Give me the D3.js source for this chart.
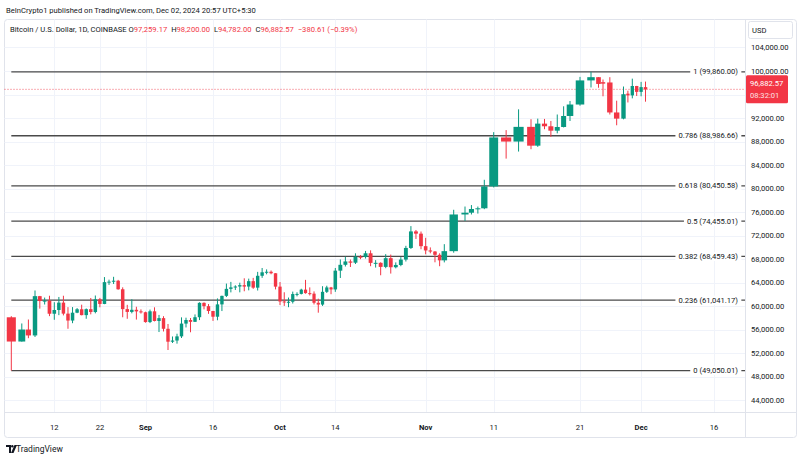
<!DOCTYPE html>
<html><head><meta charset="utf-8">
<script src="https://cdn.jsdelivr.net/npm/d3@7"></script>
<style>html,body{margin:0;padding:0;background:#fff;} svg{display:block;font-family:Roboto,"Liberation Sans",Arial,sans-serif;}</style>
</head><body><svg id="c" width="800" height="460"></svg>
<script>
// ---------- DATA ----------
const dates = [
"2024-08-05","2024-08-06","2024-08-07","2024-08-08","2024-08-09","2024-08-10","2024-08-11","2024-08-12","2024-08-13","2024-08-14",
"2024-08-15","2024-08-16","2024-08-17","2024-08-18","2024-08-19","2024-08-20","2024-08-21","2024-08-22","2024-08-23","2024-08-24",
"2024-08-25","2024-08-26","2024-08-27","2024-08-28","2024-08-29","2024-08-30","2024-08-31","2024-09-01","2024-09-02","2024-09-03",
"2024-09-04","2024-09-05","2024-09-06","2024-09-07","2024-09-08","2024-09-09","2024-09-10","2024-09-11","2024-09-12","2024-09-13",
"2024-09-14","2024-09-15","2024-09-16","2024-09-17","2024-09-18","2024-09-19","2024-09-20","2024-09-21","2024-09-22","2024-09-23",
"2024-09-24","2024-09-25","2024-09-26","2024-09-27","2024-09-28","2024-09-29","2024-09-30","2024-10-01","2024-10-02","2024-10-03",
"2024-10-04","2024-10-05","2024-10-06","2024-10-07","2024-10-08","2024-10-09","2024-10-10","2024-10-11","2024-10-12","2024-10-13",
"2024-10-14","2024-10-15","2024-10-16","2024-10-17","2024-10-18","2024-10-19","2024-10-20","2024-10-21","2024-10-22","2024-10-23",
"2024-10-24","2024-10-25","2024-10-26","2024-10-27","2024-10-28","2024-10-29","2024-10-30","2024-10-31","2024-11-01","2024-11-02",
"2024-11-03","2024-11-04","2024-11-05","2024-11-06","2024-11-07","2024-11-08","2024-11-09","2024-11-10","2024-11-11","2024-11-12",
"2024-11-13","2024-11-14","2024-11-15","2024-11-16","2024-11-17","2024-11-18","2024-11-19","2024-11-20","2024-11-21","2024-11-22",
"2024-11-23","2024-11-24","2024-11-25","2024-11-26","2024-11-27","2024-11-28","2024-11-29","2024-11-30","2024-12-01","2024-12-02"];
const open = [
58116,53991,56034,55027,61710,60881,60945,58719,59354,60609,
58737,57560,58894,59478,58483,59493,59012,61175,60381,64094,
64178,64333,62880,59504,59027,59388,59119,58974,57301,59132,
57487,57971,56160,53962,54160,54869,57042,57649,57343,58127,
60572,60005,59182,58213,60309,61759,62947,63201,63348,63578,
63339,64262,63152,65173,65769,65858,65603,63327,60805,60649,
60754,62067,62089,62818,62224,62134,60583,60276,62445,63193,
62851,66046,67041,67612,67399,68418,68362,69002,67367,67377,
66683,68170,66628,67014,67930,69907,72720,72339,70211,69482,
69300,68740,67800,69360,75600,75900,76530,76650,80370,88700,
88000,90500,87300,91050,90600,89850,90480,92350,94300,98400,
98950,98100,98050,92950,91900,96150,95850,97450,96450,97259.17];
const high = [
58305,57064,57736,62673,61751,61464,61778,60680,61572,61780,
59838,59847,59686,60262,59618,61396,61820,61412,64955,64513,
65000,64476,63210,60236,61184,59905,59462,59070,59425,59809,
58519,58300,56976,54850,55318,58100,58044,57990,58600,60660,
60650,60370,59210,61320,61786,63850,64133,63559,64000,64745,
64688,64817,65840,66498,66260,66076,65620,64110,62370,61470,
62480,62370,62970,64478,63200,62520,61280,63400,63480,63280,
66500,67950,68424,67939,69000,68694,69400,69500,67836,67470,
68850,68780,67450,68350,70270,73620,72960,72700,71632,70000,
69380,69000,70550,76400,76950,77200,76950,81500,89600,89950,
93480,91800,91900,91850,91500,92600,94000,94900,99000,99860,
98950,98550,98950,94950,97360,96650,98700,97470,98150,98200];
const low = [
49050,53973,54558,54766,59587,60287,58310,57688,58478,58433,
56161,57110,58813,58445,57862,58610,58783,59815,60345,63619,
63773,62800,58116,57860,58786,57726,58745,57201,57128,57415,
55607,55700,52550,53745,53629,54591,56386,55567,57330,57640,
59460,58700,57500,57610,59174,61555,62350,62758,62357,62538,
62700,62947,62670,64819,65422,65432,62856,60189,60043,59828,
60459,61675,61999,62128,61824,60300,58895,60046,62250,62033,
62441,64800,66750,66666,67177,68000,68100,66800,66571,65260,
66460,65550,66440,66800,67600,69730,71436,69685,68820,69000,
67466,66800,67450,69100,74500,75600,75750,76500,80200,85100,
86300,86700,87100,90100,88800,89400,90400,91500,94100,97200,
97150,95700,92600,90770,91780,94650,95350,95750,95700,94782];
const close = [
53991,56034,55027,61710,60881,60945,58719,59354,60609,58737,
57560,58894,59478,58483,59493,59012,61175,60381,64094,64178,
64333,62880,59504,59027,59388,59119,58974,57301,59132,57487,
57971,56160,53962,54160,54869,57042,57649,57343,58127,60572,
60005,59182,58213,60309,61759,62947,63201,63348,63578,63339,
64262,63152,65173,65769,65858,65603,63327,60805,60649,60754,
62067,62089,62818,62224,62134,60583,60276,62445,63193,62851,
66046,67041,67612,67399,68418,68362,69002,67367,67377,66683,
68170,66628,67014,67930,69907,72720,72339,70211,69482,69300,
68740,67800,69360,75600,75900,76530,76650,80370,88700,88000,
90500,87300,91050,90600,89850,90480,92350,94300,98400,98950,
97800,97850,92950,91900,96050,95850,97450,96450,97259.17,96882.57];

const fibRatios = [1, 0.786, 0.618, 0.5, 0.382, 0.236, 0];
const fibPrices = [99860.00, 88986.66, 80450.58, 74455.01, 68459.43, 61041.17, 49050.01];
const priceTicks = [44000,48000,52000,56000,60000,64000,68000,72000,76000,80000,84000,88000,92000,96000,100000,104000];
const timeTickDates = ["2024-08-12","2024-08-22","2024-09-01","2024-09-16","2024-10-01","2024-10-14","2024-11-01","2024-11-11","2024-11-21","2024-12-01","2024-12-16"];
const timeTickLabels = ["12","22","Sep","16","Oct","14","Nov","11","21","Dec","16"];
const lastPrice = 96882.57;
const countdown = "08:32:01";
const headerTitle = "BeInCrypto1 published on TradingView.com, Dec 02, 2024 20:57 UTC+5:30";
const symbolText = "Bitcoin / U.S. Dollar, 1D, COINBASE";
const ohlcLabels = ["O","H","L","C"];
const ohlcValues = ["97,259.17","98,200.00","94,782.00","96,882.57"];
const changeText = "\u2212380.61 (\u22120.39%)";

// ---------- LAYOUT ----------
const parse = d3.utcParse("%Y-%m-%d");
// time-axis stops (the source screenshot has a non-uniform time axis)
const timeStops = [
 ["2024-08-04",-0.5],["2024-08-05",11.3],["2024-08-06",21.8],["2024-08-08",35],["2024-08-12",54.3],
 ["2024-09-01",145.5],["2024-09-16",213],["2024-10-01",280],["2024-10-14",335.3],["2024-10-31",421],
 ["2024-11-05",444.3],["2024-11-06",453.7],["2024-11-07",465],["2024-11-10",484.3],["2024-11-11",493.7],
 ["2024-11-14",531],["2024-11-16",544.5],["2024-11-20",570],["2024-11-21",580],["2024-11-22",591],
 ["2024-11-23",598.5],["2024-11-24",603],["2024-11-27",623.5],["2024-12-02",645.5],["2024-12-16",714]];
const pane = {left:4.5, right:745.5, top:19.5, bottom:412.5};
const UP = "#089981", DOWN = "#f23645", TXT = "#131722", GRID = "#f0f3fa", BORDER = "#e0e3eb";
const FS = 7.6;

const svg = d3.select("#c");
const x = d3.scaleUtc().domain(timeStops.map(s=>parse(s[0]))).range(timeStops.map(s=>s[1]));
const y = d3.scaleLinear().domain([42007, 108844]).range([412, 19]);

const data = dates.map((d,i)=>({date:parse(d), o:open[i], h:high[i], l:low[i], c:close[i]}));

// border
svg.append("rect").attr("x",4.5).attr("y",19.5).attr("width",792).attr("height",418)
  .attr("rx",3).attr("fill","#fff").attr("stroke",BORDER);

// grid
const gGrid = svg.append("g");
gGrid.selectAll("line.h").data(priceTicks).join("line")
  .attr("x1",pane.left).attr("x2",pane.right)
  .attr("y1",d=>Math.round(y(d))+0.5).attr("y2",d=>Math.round(y(d))+0.5)
  .attr("stroke",GRID).attr("stroke-width",1);
gGrid.selectAll("line.v").data(timeTickDates).join("line")
  .attr("x1",d=>Math.round(x(parse(d)))+0.5).attr("x2",d=>Math.round(x(parse(d)))+0.5)
  .attr("y1",pane.top).attr("y2",pane.bottom)
  .attr("stroke",GRID).attr("stroke-width",1);

// fib levels
const fmt2 = d3.format(",.2f");
const gFib = svg.append("g");
const fibStart = x(data[0].date);
fibPrices.forEach((p,i)=>{
  const yy = y(p);
  gFib.append("line").attr("x1",fibStart).attr("x2",pane.right).attr("y1",yy).attr("y2",yy)
    .attr("stroke","#4a4a4a").attr("stroke-width",1.3);
});
fibPrices.forEach((p,i)=>{
  const yy = y(p);
  const label = `${fibRatios[i]} (${fmt2(p)})`;
  const t = gFib.append("text").attr("x",738).attr("y",yy).attr("text-anchor","end")
    .attr("dominant-baseline","central").attr("font-size",FS).attr("fill",TXT).text(label);
  const bb = t.node().getBBox();
  gFib.insert("rect", () => t.node()).attr("x",bb.x-3).attr("y",bb.y).attr("width",bb.width+6)
    .attr("height",bb.height).attr("fill","#fff");
});

// last price dotted line
svg.append("line").attr("x1",pane.left).attr("x2",pane.right)
  .attr("y1",y(lastPrice)).attr("y2",y(lastPrice))
  .attr("stroke",DOWN).attr("stroke-width",1).attr("stroke-dasharray","1,2").attr("opacity",0.8);

// candles
const halfDay = 12*3600*1000;
const gC = svg.append("g");
data.forEach(d=>{
  const cx = x(d.date);
  const span = x(new Date(+d.date+halfDay)) - x(new Date(+d.date-halfDay));
  const w = Math.max(1, span*0.85 - 0.4);
  const col = d.c >= d.o ? UP : DOWN;
  gC.append("line").attr("x1",cx).attr("x2",cx).attr("y1",y(d.h)).attr("y2",y(d.l))
    .attr("stroke",col).attr("stroke-width",1);
  const top = y(Math.max(d.o,d.c)), bot = y(Math.min(d.o,d.c));
  gC.append("rect").attr("x",cx-w/2).attr("y",top).attr("width",w).attr("height",Math.max(1,bot-top))
    .attr("fill",col);
});

// axis separators
svg.append("line").attr("x1",745.5).attr("x2",745.5).attr("y1",19.5).attr("y2",437.5).attr("stroke",BORDER);
svg.append("line").attr("x1",4.5).attr("x2",796.5).attr("y1",412.5).attr("y2",412.5).attr("stroke",BORDER);

// price axis (labels under the last-price tag are hidden, as on TradingView)
const ly = y(lastPrice);
const gY = svg.append("g");
gY.selectAll("text").data(priceTicks.filter(d=>Math.abs(y(d)-ly)>16)).join("text")
  .attr("x",751).attr("y",d=>y(d)).attr("dominant-baseline","central")
  .attr("font-size",FS).attr("fill",TXT).text(d=>fmt2(d));
// USD box
svg.append("rect").attr("x",748.5).attr("y",21.5).attr("width",44).attr("height",17).attr("rx",2)
  .attr("fill","#fff").attr("stroke",BORDER);
svg.append("text").attr("x",752).attr("y",30).attr("dominant-baseline","central")
  .attr("font-size",FS).attr("fill",TXT).text("USD");
// last price label
svg.append("rect").attr("x",746).attr("y",ly-14).attr("width",42).attr("height",28).attr("rx",1.5).attr("fill",DOWN);
svg.append("text").attr("x",750).attr("y",ly-6).attr("dominant-baseline","central")
  .attr("font-size",FS).attr("fill","#fff").text(fmt2(lastPrice));
svg.append("text").attr("x",750).attr("y",ly+6).attr("dominant-baseline","central")
  .attr("font-size",FS).attr("fill","#fff").attr("opacity",0.85).text(countdown);

// time axis
const gX = svg.append("g");
gX.selectAll("text").data(timeTickDates).join("text")
  .attr("x",d=>x(parse(d))).attr("y",427).attr("text-anchor","middle").attr("dominant-baseline","central")
  .attr("font-size",FS).attr("fill",TXT)
  .attr("font-weight",(d,i)=>/[A-Za-z]/.test(timeTickLabels[i])?"bold":"normal")
  .text((d,i)=>timeTickLabels[i]);

// header
svg.append("text").attr("x",6).attr("y",10).attr("dominant-baseline","central")
  .attr("font-size",FS).attr("fill",TXT).text(headerTitle);
const h2 = svg.append("text").attr("x",10).attr("y",29).attr("dominant-baseline","central")
  .attr("font-size",FS).attr("fill",TXT);
h2.append("tspan").text(symbolText + "  ");
ohlcLabels.forEach((l,i)=>{
  h2.append("tspan").attr("fill",TXT).attr("dx",i===0?0:4).text(l);
  h2.append("tspan").attr("fill",DOWN).text(ohlcValues[i]);
});
h2.append("tspan").attr("fill",DOWN).attr("dx",4).text(changeText);

// TradingView logo
const logo = svg.append("g").attr("transform","translate(6,445)");
logo.append("path").attr("d","M0 0H5V8H3V2H0Z").attr("fill",TXT);
logo.append("circle").attr("cx",6.3).attr("cy",1.2).attr("r",1.2).attr("fill",TXT);
logo.append("path").attr("d","M8.5 0H11L7.5 8H5Z").attr("fill",TXT);
svg.append("text").attr("x",16).attr("y",449).attr("dominant-baseline","central")
  .attr("font-size",8.5).attr("fill",TXT).text("TradingView");
</script>
</body></html>
